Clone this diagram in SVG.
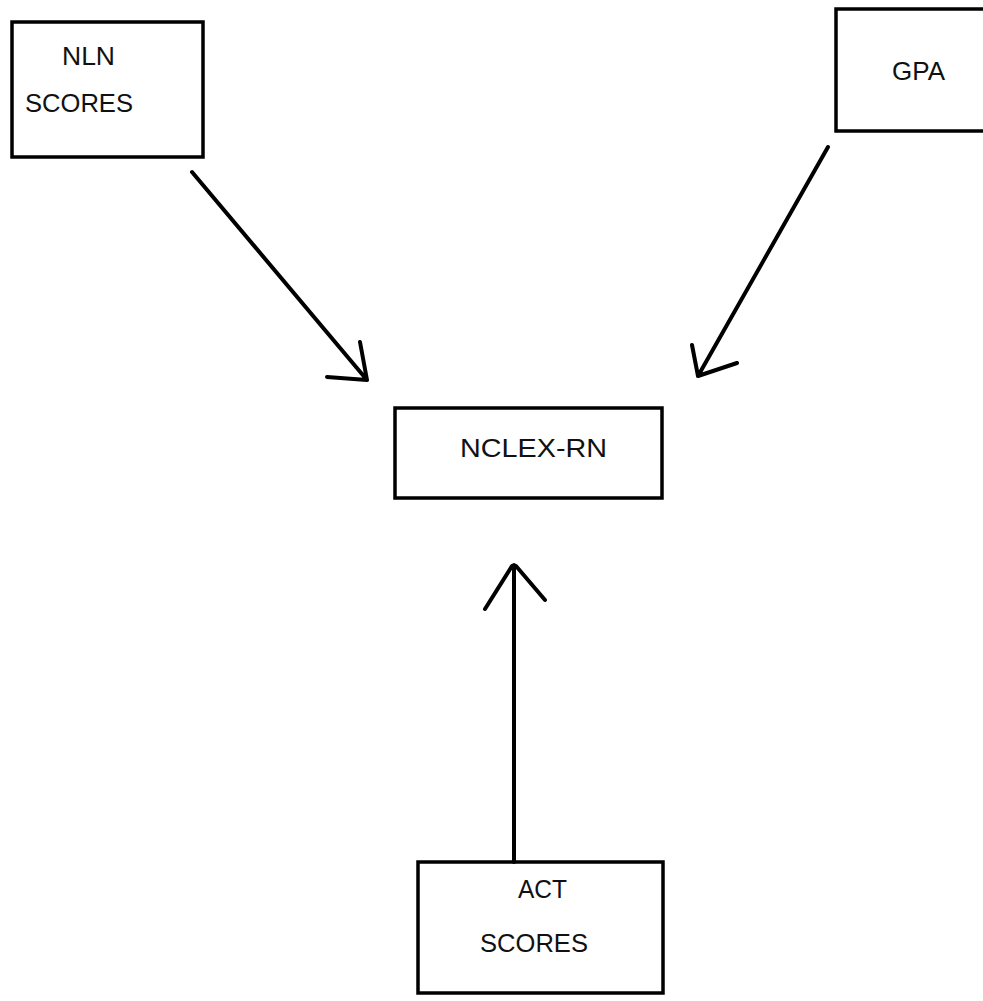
<svg xmlns="http://www.w3.org/2000/svg" width="983" height="1001" viewBox="0 0 983 1001">
<style>
.box{fill:none;stroke:#000;stroke-width:3.5}
.lbl{font-family:"Liberation Sans",Arial,sans-serif;font-size:25px;fill:#111}
.ln{fill:none;stroke:#000;stroke-width:4;stroke-linecap:round;stroke-linejoin:round}
</style>
<rect width="983" height="1001" fill="#fff"/>
<g id="node-nln">
<rect class="box" x="12" y="22" width="191" height="135"/>
<text class="lbl" x="62" y="65" textLength="53" lengthAdjust="spacingAndGlyphs">NLN</text>
<text class="lbl" x="25" y="112" textLength="108" lengthAdjust="spacingAndGlyphs">SCORES</text>
</g>
<g id="node-gpa">
<rect class="box" x="836" y="9" width="160" height="122"/>
<text class="lbl" x="892" y="80" textLength="53" lengthAdjust="spacingAndGlyphs">GPA</text>
</g>
<g id="node-nclex">
<rect class="box" x="395" y="408" width="267" height="90"/>
<text class="lbl" x="460" y="457" textLength="147" lengthAdjust="spacingAndGlyphs">NCLEX-RN</text>
</g>
<g id="node-act">
<rect class="box" x="418" y="862" width="245" height="131"/>
<text class="lbl" x="518" y="898" textLength="49" lengthAdjust="spacingAndGlyphs">ACT</text>
<text class="lbl" x="480" y="952" textLength="108" lengthAdjust="spacingAndGlyphs">SCORES</text>
</g>
<g id="connectors">
<path class="ln" d="M192 172 L367 380 M360 342 L367 380 L327 377"/>
<path class="ln" d="M828 147 L698 376 M692 345 L698 376 L737 363"/>
<path class="ln" d="M514 862 L514 565 M485 609 L512 566 M516 566 L545 600"/>
</g>
</svg>
